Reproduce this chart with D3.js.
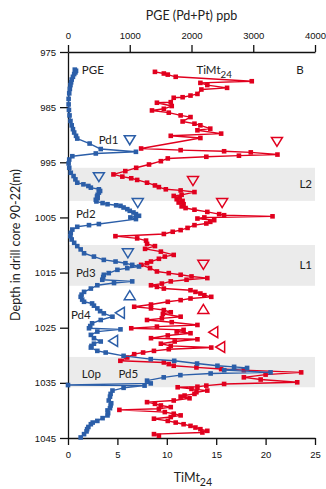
<!DOCTYPE html>
<html>
<head>
<meta charset="utf-8">
<script src="https://cdn.jsdelivr.net/npm/d3@7"></script>
<style>
	body { margin: 0; background: #fff; }
	svg { font-family: Lato, "DejaVu Sans", sans-serif; }
	.axis path, .axis line { stroke: #111; stroke-width: 1.3; }
	.axis text { font-size: 9.5px; fill: #111; }
</style>
</head>
<body>
<svg width="326" height="489"></svg>
<script>

// depth axis (m) and the two x scales
const DEPTH_TICKS = [975, 985, 995, 1005, 1015, 1025, 1035, 1045];
const PGE_TICKS = [0, 1000, 2000, 3000, 4000];
const TIMT_TICKS = [0, 5, 10, 15, 20, 25];

// shaded layers
const BAND_NAMES = ['L2', 'L1', 'L0p'];
const BAND_TOP = [996, 1010, 1030.3];
const BAND_BOTTOM = [1002, 1017.4, 1035.8];

// TiMt24 series (red)
const RED_DEPTH = [978.6, 978.9, 979.1, 979.5, 980.3, 980.6, 981.0, 981.5, 981.8, 982.6, 982.9, 983.2, 983.3, 984.1, 984.2, 984.8,
	985.3, 985.6, 986.0, 986.5, 986.8, 987.6, 988.0, 988.3, 988.9, 989.2, 989.8, 990.2, 990.6, 992.5, 992.8, 993.0,
	993.2, 993.6, 993.8, 994.0, 994.3, 994.8, 995.4, 996.0, 996.6, 997.2, 997.6, 997.9, 998.2, 998.7, 999.2, 999.5,
	999.9, 1000.1, 1000.4, 1000.9, 1001.1, 1001.4, 1001.7, 1002.0, 1002.3, 1002.6, 1003.0, 1003.3, 1003.6, 1004.0, 1004.4, 1004.6,
	1004.8, 1005.0, 1005.2, 1005.5, 1005.8, 1006.1, 1006.4, 1006.9, 1007.3, 1007.6, 1008.0, 1008.4, 1008.8, 1009.2, 1009.8, 1010.2,
	1010.7, 1011.2, 1011.8, 1012.1, 1012.5, 1013.0, 1013.3, 1013.6, 1014.2, 1014.8, 1015.1, 1015.4, 1015.7, 1016.0, 1016.3, 1016.6,
	1017.0, 1017.3, 1017.6, 1017.9, 1018.2, 1018.5, 1018.8, 1019.1, 1019.4, 1019.7, 1020.0, 1020.3, 1020.8, 1021.2, 1021.5, 1021.8,
	1022.2, 1022.5, 1023.0, 1023.3, 1023.6, 1024.0, 1024.5, 1024.8, 1025.1, 1025.4, 1025.7, 1026.0, 1026.4, 1026.9, 1027.1, 1027.5,
	1027.9, 1028.3, 1028.6, 1028.9, 1029.2, 1029.5, 1029.8, 1030.4, 1031.0, 1031.3, 1031.6, 1031.9, 1032.2, 1032.5, 1032.7, 1033.1,
	1033.5, 1034.0, 1034.4, 1034.9, 1035.2, 1035.5, 1035.7, 1035.8, 1036.1, 1036.4, 1036.7, 1037.0, 1037.3, 1037.5, 1037.8, 1038.2,
	1038.5, 1038.8, 1039.1, 1039.4, 1039.7, 1039.9, 1040.3, 1040.6, 1040.9, 1041.2, 1041.5, 1041.9, 1042.2, 1042.5, 1042.8, 1043.1,
	1043.4, 1043.7, 1044.0, 1044.3, 1044.6];
const RED_TIMT = [8.8, 9.7, 10.1, 10.9, 18.6, 13.4, 14.1, 16.1, 13.5, 13.1, 12.4, 11.6, 10.7, 10.4, 9.0, 10.5,
	9.7, 8.5, 10.2, 11.4, 12.4, 11.6, 12.8, 13.4, 14.4, 13.1, 15.5, 10.4, 13.4, 7.4, 11.4, 15.8,
	18.5, 21.2, 17.3, 14.0, 10.1, 9.4, 8.2, 6.9, 5.8, 4.6, 5.5, 6.4, 7.0, 8.0, 8.8, 9.2,
	9.9, 11.4, 12.8, 11.5, 10.7, 11.3, 11.0, 11.6, 11.2, 11.7, 11.5, 11.9, 12.8, 14.1, 15.3, 15.8,
	20.7, 13.8, 13.1, 14.8, 14.4, 14.0, 12.8, 12.1, 11.4, 10.6, 9.7, 4.8, 7.0, 7.9, 8.0, 8.8,
	7.8, 9.4, 10.7, 9.8, 9.2, 8.4, 8.0, 7.4, 8.3, 9.0, 10.2, 11.4, 12.5, 14.1, 12.0, 10.4,
	9.5, 8.4, 9.0, 9.7, 12.4, 12.9, 13.4, 13.8, 14.5, 12.4, 11.4, 10.1, 8.4, 6.7, 8.4, 9.7,
	10.4, 9.6, 11.4, 9.5, 8.0, 10.5, 13.1, 9.0, 6.4, 11.7, 11.0, 12.4, 10.1, 8.4, 13.1, 10.8,
	9.4, 10.4, 14.5, 10.2, 8.7, 7.6, 6.7, 6.0, 5.3, 9.7, 10.2, 10.7, 13.0, 15.5, 17.8, 23.6,
	20.0, 17.8, 19.5, 23.2, 15.8, 14.0, 13.1, 11.1, 12.5, 14.1, 13.0, 12.8, 11.8, 11.4, 12.3, 10.7,
	8.0, 8.8, 9.4, 10.4, 9.2, 5.2, 9.8, 10.7, 11.4, 10.4, 8.7, 10.1, 10.9, 11.7, 12.4, 12.9,
	13.4, 14.1, 13.6, 8.7, 9.2];

// PGE (Pd+Pt) series (blue), ppb
const BLUE_DEPTH = [978.2, 978.4, 978.7, 979.0, 979.5, 980.0, 980.5, 981.0, 981.7, 982.5, 983.5, 984.5, 985.5, 986.5, 987.5, 988.3,
	989.0, 989.6, 990.2, 990.7, 991.6, 992.6, 993.1, 993.4, 993.9, 994.5, 995.2, 996.0, 996.9, 997.5, 998.1, 998.7,
	999.0, 999.3, 999.6, 999.9, 1000.2, 1000.5, 1000.9, 1001.2, 1001.5, 1001.8, 1002.1, 1002.4, 1002.6, 1002.8, 1002.9, 1003.2,
	1003.5, 1003.8, 1004.1, 1004.4, 1004.7, 1005.0, 1005.3, 1006.2, 1006.4, 1006.7, 1007.2, 1007.8, 1008.4, 1009.0, 1009.6, 1010.2,
	1010.8, 1011.5, 1012.1, 1012.7, 1013.0, 1013.3, 1013.6, 1013.9, 1014.2, 1014.5, 1015.1, 1015.4, 1015.8, 1016.3, 1016.6, 1016.9,
	1017.3, 1017.9, 1018.5, 1019.0, 1019.4, 1019.9, 1020.3, 1020.6, 1021.0, 1021.5, 1022.0, 1022.4, 1023.0, 1023.6, 1024.2, 1024.7,
	1025.1, 1025.3, 1025.7, 1026.3, 1026.9, 1027.5, 1027.9, 1028.3, 1028.6, 1029.2, 1029.5, 1030.1, 1030.7, 1031.0, 1031.5, 1031.9,
	1032.1, 1032.3, 1032.7, 1033.1, 1033.3, 1033.6, 1034.0, 1034.6, 1035.1, 1035.4, 1035.5, 1035.9, 1036.4, 1037.0, 1037.5, 1038.2,
	1038.7, 1039.1, 1039.6, 1040.0, 1040.5, 1040.9, 1041.4, 1041.9, 1042.2, 1042.5, 1043.0, 1043.4, 1043.8, 1044.3, 1044.9];
const BLUE_PGE = [110, 130, 120, 100, 80, 60, 50, 40, 30, 20, 10, 10, 15, 25, 40, 60,
	80, 100, 130, 150, 350, 530, 1100, 450, 70, 20, 10, 20, 45, 90, 120, 150,
	250, 330, 370, 500, 520, 500, 480, 470, 480, 450, 460, 560, 640, 780, 850, 900,
	960, 1000, 1060, 1100, 1150, 1010, 1100, 500, 340, 150, 70, 45, 40, 60, 100, 150,
	205, 260, 420, 580, 770, 930, 1040, 1150, 960, 800, 660, 580, 570, 555, 1040, 745,
	475, 370, 260, 220, 205, 230, 260, 390, 420, 475, 520, 580, 720, 530, 390, 360,
	340, 850, 475, 370, 420, 530, 420, 380, 370, 475, 610, 900, 1340, 1720, 2090, 2420,
	2690, 2900, 2530, 3280, 2310, 1820, 1550, 1280, 1340, 0, 1240, 900, 720, 690, 680, 660,
	700, 690, 680, 640, 650, 640, 560, 475, 400, 370, 330, 310, 300, 260, 205];

// open triangle markers
const BLUE_TRI_DEPTH = [991.0, 997.7, 1002.4, 1011.5, 1019.1, 1022.3, 1027.4];
const BLUE_TRI_PGE = [1000, 500, 1130, 970, 1000, 840, 730];
const RED_TRI_DEPTH = [991.3, 998.4, 1002.4, 1013.6, 1021.6, 1025.8, 1028.5];
const RED_TRI_TIMT = [21.15, 12.65, 15.6, 13.7, 13.7, 14.7, 15.4];
const TRI_DIR = ['down', 'down', 'down', 'down', 'up', 'left', 'left'];

// text notes, x in TiMt units
const NOTE_TEXT = ['PGE', 'B', 'Pd1', 'Pd2', 'Pd3', 'Pd4', 'L0p', 'Pd5'];
const NOTE_X = [1.4, 23.1, 3.1, 0.8, 0.8, 0.3, 1.4, 5.1];
const NOTE_DEPTH = [978.3, 978.3, 991.0, 1004.4, 1015.1, 1022.7, 1033.4, 1033.4];

const BLUE = '#2b5ea8';
const RED = '#e1001e';

const margin = { top: 52, left: 68, right: 11, bottom: 51 };
const W = 326, H = 489;

const svg = d3.select('svg');
const w = W - margin.left - margin.right;
const h = H - margin.top - margin.bottom;

let y = d3.scaleLinear().domain([975, 1045]).range([margin.top, margin.top + h]);
let xPge = d3.scaleLinear().domain([0, 4000]).range([margin.left, margin.left + w]);
let xT = d3.scaleLinear().domain([0, 25]).range([margin.left, margin.left + w]);

// bands
svg.append('g').selectAll('rect')
	.data(BAND_NAMES)
	.enter().append('rect')
	.attr('x', xT(0))
	.attr('width', xT(25) - xT(0))
	.attr('y', (d, i) => y(BAND_TOP[i]))
	.attr('height', (d, i) => y(BAND_BOTTOM[i]) - y(BAND_TOP[i]))
	.attr('fill', '#ebebeb');

// axes
svg.append('g').attr('class', 'axis')
	.attr('transform', `translate(${margin.left},0)`)
	.call(d3.axisLeft(y).tickValues(DEPTH_TICKS).tickSize(8).tickSizeOuter(0).tickPadding(4).tickFormat(d3.format('d')));
svg.append('g').attr('class', 'axis')
	.attr('transform', `translate(0,${margin.top})`)
	.call(d3.axisTop(xPge).tickValues(PGE_TICKS).tickSize(7).tickSizeOuter(0).tickPadding(6).tickFormat(d3.format('d')));
svg.append('g').attr('class', 'axis')
	.attr('transform', `translate(0,${margin.top + h})`)
	.call(d3.axisBottom(xT).tickValues(TIMT_TICKS).tickSize(7).tickSizeOuter(0).tickPadding(6));

// series
let red = RED_DEPTH.map((d, i) => ({ depth: d, v: RED_TIMT[i] }));
let blue = BLUE_DEPTH.map((d, i) => ({ depth: d, v: BLUE_PGE[i] }));

function drawSeries(data, xs, color) {
	let g = svg.append('g');
	g.append('path')
		.datum(data)
		.attr('fill', 'none')
		.attr('stroke', color)
		.attr('stroke-width', 1.4)
		.attr('stroke-linejoin', 'round')
		.attr('d', d3.line().x(d => xs(d.v)).y(d => y(d.depth)));
	g.selectAll('rect')
		.data(data)
		.enter().append('rect')
		.attr('x', d => xs(d.v) - 2.3)
		.attr('y', d => y(d.depth) - 2.3)
		.attr('width', 4.6)
		.attr('height', 4.6)
		.attr('fill', color);
}
drawSeries(red, xT, RED);
drawSeries(blue, xPge, BLUE);

// triangles
const TRI_PATH = {
	down: 'M-5.5,-4.5L5.5,-4.5L0,4.5Z',
	up: 'M-5.5,4.5L5.5,4.5L0,-4.5Z',
	left: 'M4.5,-5.5L4.5,5.5L-4.5,0Z'
};
function drawTriangles(depths, vals, xs, color) {
	svg.append('g').selectAll('path')
		.data(depths)
		.enter().append('path')
		.attr('d', (d, i) => TRI_PATH[TRI_DIR[i]])
		.attr('transform', (d, i) => `translate(${xs(vals[i])},${y(d)})`)
		.attr('fill', 'none')
		.attr('stroke', color)
		.attr('stroke-width', 1.5);
}
drawTriangles(BLUE_TRI_DEPTH, BLUE_TRI_PGE, xPge, BLUE);
drawTriangles(RED_TRI_DEPTH, RED_TRI_TIMT, xT, RED);

// notes
svg.append('g').selectAll('text')
	.data(NOTE_TEXT)
	.enter().append('text')
	.attr('x', (d, i) => xT(NOTE_X[i]))
	.attr('y', (d, i) => y(NOTE_DEPTH[i]))
	.attr('dy', '0.35em')
	.attr('font-size', 11.5)
	.attr('fill', '#222')
	.text(d => d);

svg.append('g').selectAll('text')
	.data(BAND_NAMES.slice(0, 2))
	.enter().append('text')
	.attr('x', xT(24.7))
	.attr('y', (d, i) => y((BAND_TOP[i] + BAND_BOTTOM[i]) / 2))
	.attr('dy', '0.35em')
	.attr('text-anchor', 'end')
	.attr('font-size', 11.5)
	.attr('fill', '#222')
	.text(d => d);

function timtLabel(x, yy, size) {
	let t = svg.append('text')
		.attr('x', x).attr('y', yy)
		.attr('font-size', size).attr('fill', '#222');
	t.append('tspan').text('TiMt');
	t.append('tspan').attr('dy', size * 0.3).attr('font-size', size * 0.85).text('24');
	return t;
}
timtLabel(xT(13.0), y(978.3) + 4, 11.5);

// titles
svg.append('text')
	.attr('x', xPge(2000)).attr('y', 20)
	.attr('text-anchor', 'middle')
	.attr('font-size', 12.5).attr('fill', '#222')
	.text('PGE (Pd+Pt) ppb');

timtLabel(xT(10.7), H - 7, 12.5);

svg.append('text')
	.attr('transform', `translate(20,${margin.top + h / 2}) rotate(-90)`)
	.attr('text-anchor', 'middle')
	.attr('font-size', 12.5).attr('fill', '#222')
	.text('Depth in drill core 90-22(m)');

</script>
</body>
</html>
